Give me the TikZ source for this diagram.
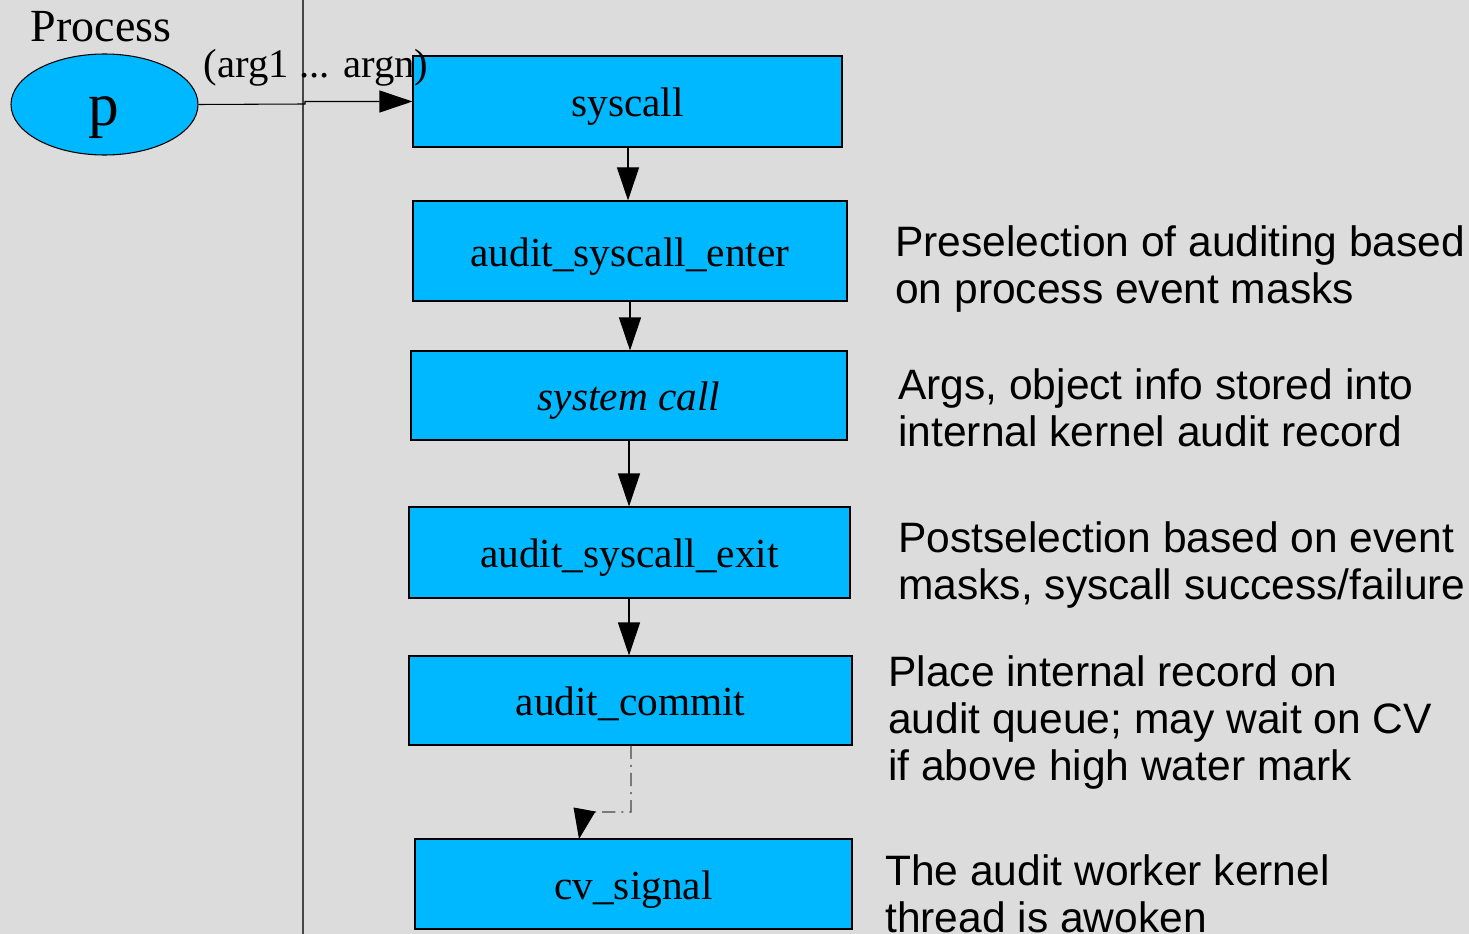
\documentclass[tikz,border=0pt]{standalone}
\usepackage{fontspec}
\setmainfont{Liberation Serif}
\setsansfont{Liberation Sans}
\usetikzlibrary{arrows.meta,shapes.geometric}
\definecolor{bg}{RGB}{220,220,220}
\definecolor{boxfill}{RGB}{0,184,255}
\definecolor{rule}{RGB}{70,70,70}
\newcommand\pxl[1]{#1*0.75pt}
\begin{document}
\begin{tikzpicture}[x=0.75pt,y=-0.75pt,
  stepbox/.style={draw=black,line width=0.8pt,fill=boxfill,rectangle,inner sep=0pt,
    text height=\pxl{30},text depth=0pt,
    font=\fontsize{31}{35}\selectfont},
  note/.style={anchor=base west,align=left,inner sep=0pt,
    font=\sffamily\fontsize{31.9}{35.25}\selectfont},
  flow/.style={draw=black,line width=0.8pt,-{Triangle[length=\pxl{33},width=\pxl{22}]}},
  weak/.style={draw=rule,line width=0.8pt,dash pattern=on 10pt off 4.5pt on 1.5pt off 4.5pt,
    -{Triangle[length=\pxl{30},width=\pxl{22},color=black]}}]
\fill[bg] (0,0) rectangle (1469,934);
\useasboundingbox (0,0) rectangle (1469,934);

% boundary between the process and the kernel
\coordinate (rtop) at (303,0);
\coordinate (rbot) at (303,934);
\draw[rule,line width=0.8pt] (rtop) -- (rbot);

% the calling process
\node[draw=black,line width=0.8pt,fill=boxfill,ellipse,inner sep=0pt,
  minimum width=\pxl{187},minimum height=\pxl{101}] (p) at (104.5,104.5) {};
\node[font=\fontsize{46}{50}\selectfont,inner sep=0pt] (plabel) at (104,118) {p};
\node[font=\fontsize{34.5}{38}\selectfont,inner sep=0pt,anchor=base] (proc) at (101,42) {Process};

% kernel path of a system call
\node[stepbox,minimum width=\pxl{429},minimum height=\pxl{91}] (sc) at (627.5,101.5) {syscall};
\node[stepbox,minimum width=\pxl{434},minimum height=\pxl{100}] (enter) at (630,251) {audit\_syscall\_enter};
\node[stepbox,minimum width=\pxl{436},minimum height=\pxl{89}] (call) at (629,395.5) {\itshape system call};
\node[stepbox,minimum width=\pxl{441},minimum height=\pxl{91}] (exit) at (629.5,552.5) {audit\_syscall\_exit};
\node[stepbox,minimum width=\pxl{443},minimum height=\pxl{89}] (commit) at (630.5,700.5) {audit\_commit};
\node[stepbox,minimum width=\pxl{437},minimum height=\pxl{90}] (cv) at (633.5,884) {cv\_signal};

% arguments passed into the kernel
\node[font=\fontsize{30.5}{34}\selectfont,inner sep=0pt,anchor=base] (args) at (316,78) {(arg1 ... argn)};
\coordinate (jog1) at (305,104);
\coordinate (jog2) at (305,101.5);
\draw[flow] (p.east) -- (jog1) -- (jog2) -- (sc.west);

% control flow between the steps
\draw[flow] (sc.south -| 628,0) -- (enter.north -| 628,0);
\draw[flow] (enter.south -| 630,0) -- (call.north -| 630,0);
\draw[flow] (call.south -| 629,0) -- (exit.north -| 629,0);
\draw[flow] (exit.south -| 629,0) -- (commit.north -| 629,0);
\coordinate (bend) at (631,812);
\coordinate (bend2) at (584,812);
\coordinate (cvin) at (579,839);
\draw[weak] (commit.south -| 631,0) -- (bend) -- (bend2) -- (cvin);

% descriptions
\node[note] (n1) at (895,303) {Preselection of auditing based\\on process event masks};
\node[note] (n2) at (898,446) {Args, object info stored into\\internal kernel audit record};
\node[note] (n3) at (898,599) {Postselection based on event\\masks, syscall success/failure};
\node[note] (n4) at (888,780) {Place internal record on\\audit queue; may wait on CV\\if above high water mark};
\node[note] (n5) at (885,932) {The audit worker kernel\\thread is awoken};
\end{tikzpicture}
\end{document}
